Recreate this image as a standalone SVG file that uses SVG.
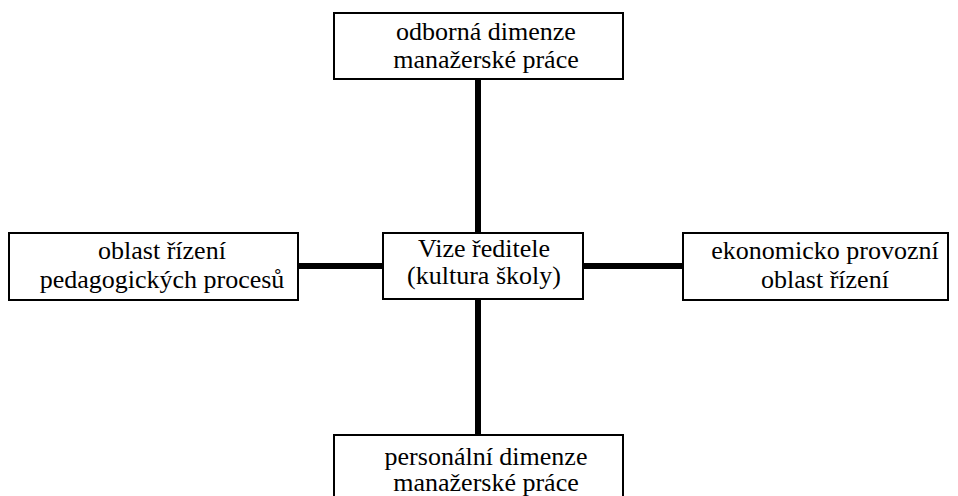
<svg xmlns="http://www.w3.org/2000/svg" width="958" height="496" viewBox="0 0 958 496">
  <rect width="958" height="496" fill="#ffffff"/>
  <!-- thick black bars joining the centre box to the four outer boxes -->
  <g id="connectors" stroke="#000000" stroke-width="6" fill="none">
    <line x1="478" y1="79" x2="478" y2="233"/>
    <line x1="478" y1="299" x2="478" y2="435"/>
    <line x1="298" y1="266" x2="383" y2="266"/>
    <line x1="583" y1="266" x2="683" y2="266"/>
  </g>
  <g id="node-top">
    <rect x="334" y="13" width="289" height="66" fill="#ffffff" stroke="#000000" stroke-width="2"/>
    <text x="486" y="40" font-family="Liberation Serif" font-size="26" text-anchor="middle">odborná dimenze</text>
    <text x="486" y="68" font-family="Liberation Serif" font-size="26" text-anchor="middle">manažerské práce</text>
  </g>
  <g id="node-left">
    <rect x="9" y="233" width="289" height="67" fill="#ffffff" stroke="#000000" stroke-width="2"/>
    <text x="162" y="259" font-family="Liberation Serif" font-size="26" text-anchor="middle">oblast řízení</text>
    <text x="162" y="288" font-family="Liberation Serif" font-size="26" text-anchor="middle">pedagogických procesů</text>
  </g>
  <g id="node-center">
    <rect x="383" y="233" width="200" height="66" fill="#ffffff" stroke="#000000" stroke-width="2"/>
    <text x="484" y="257" font-family="Liberation Serif" font-size="26" text-anchor="middle">Vize ředitele</text>
    <text x="484" y="284" font-family="Liberation Serif" font-size="26" text-anchor="middle">(kultura školy)</text>
  </g>
  <g id="node-right">
    <rect x="683" y="233" width="265" height="67" fill="#ffffff" stroke="#000000" stroke-width="2"/>
    <text x="825" y="259" font-family="Liberation Serif" font-size="26" text-anchor="middle">ekonomicko provozní</text>
    <text x="825" y="288" font-family="Liberation Serif" font-size="26" text-anchor="middle">oblast řízení</text>
  </g>
  <g id="node-bottom">
    <rect x="334" y="435" width="289" height="70" fill="#ffffff" stroke="#000000" stroke-width="2"/>
    <text x="486" y="465" font-family="Liberation Serif" font-size="26" text-anchor="middle">personální dimenze</text>
    <text x="486" y="491" font-family="Liberation Serif" font-size="26" text-anchor="middle">manažerské práce</text>
  </g>
</svg>
